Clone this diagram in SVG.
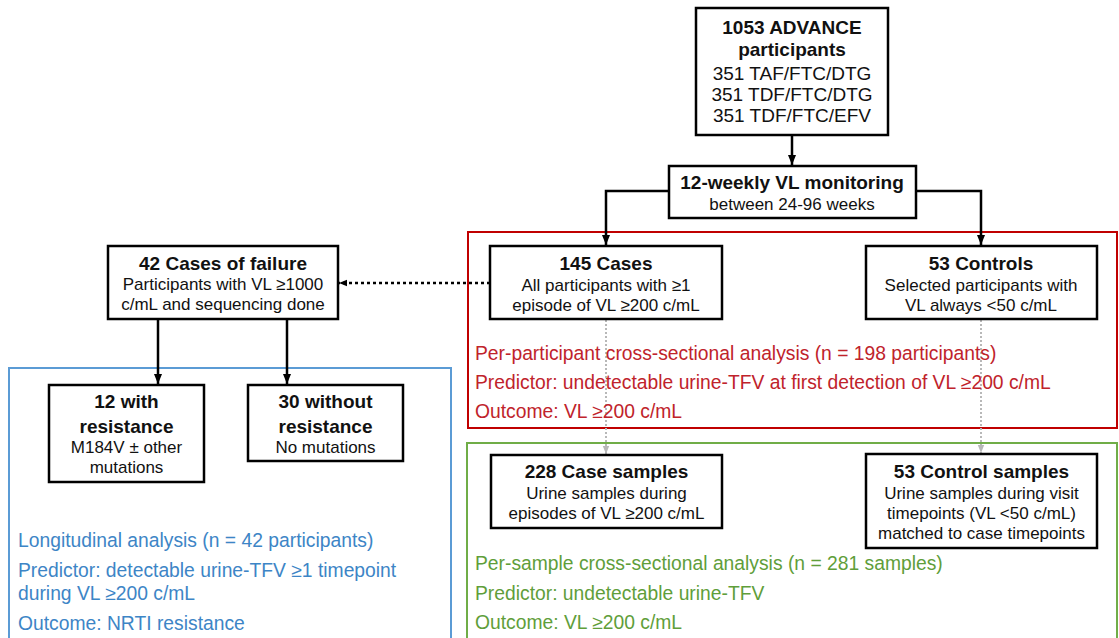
<svg xmlns="http://www.w3.org/2000/svg" width="1119" height="638" viewBox="0 0 1119 638">
<defs>
<style>
.box{fill:#fff;stroke:#000;stroke-width:2.5}
.t{font-family:"Liberation Sans",Arial,sans-serif;fill:#111;text-anchor:middle}
.b{font-weight:bold;font-size:19px}
.n{font-size:17px}
.nb{font-size:19px}
.ln{fill:none;stroke:#000;stroke-width:2.5}
.dot{fill:none;stroke:#000;stroke-width:2.5;stroke-dasharray:3 3}
.gdot{fill:none;stroke:#b8b8b8;stroke-width:2;stroke-dasharray:2 2}
.a{font-family:"Liberation Sans",Arial,sans-serif;font-size:19.3px}
.red{fill:#c0232b}
.grn{fill:#5f9e3a}
.blu{fill:#3d85c6}
</style>
<marker id="arr" viewBox="0 0 10 10" refX="10" refY="5" markerWidth="10" markerHeight="10" markerUnits="userSpaceOnUse" orient="auto"><path d="M0,1 L10,5 L0,9 z" fill="#000"/></marker>
<marker id="arrs" viewBox="0 0 10 10" refX="10" refY="5" markerWidth="8" markerHeight="8" markerUnits="userSpaceOnUse" orient="auto"><path d="M0,1 L10,5 L0,9 z" fill="#000"/></marker>
<marker id="garr" viewBox="0 0 10 10" refX="10" refY="5" markerWidth="8" markerHeight="8" markerUnits="userSpaceOnUse" orient="auto"><path d="M0,1 L10,5 L0,9 z" fill="#b8b8b8"/></marker>
</defs>
<rect width="1119" height="638" fill="#fff"/>

<g id="regions">
<rect x="468" y="232" width="649" height="196" fill="none" stroke="#c00000" stroke-width="2"/>
<rect x="467" y="443" width="650" height="210" fill="none" stroke="#70ad47" stroke-width="2"/>
<rect x="9" y="368" width="442" height="285" fill="none" stroke="#5b9bd5" stroke-width="2"/>
</g>

<g id="connectors">
<line class="ln" x1="792" y1="135" x2="792" y2="165" marker-end="url(#arr)"/>
<polyline class="ln" points="669,191 606,191 606,245" marker-end="url(#arr)"/>
<polyline class="ln" points="916,191 981,191 981,245" marker-end="url(#arr)"/>
<line class="dot" x1="490" y1="283" x2="339" y2="283" marker-end="url(#arrs)"/>
<line class="ln" x1="158" y1="319" x2="158" y2="384" marker-end="url(#arr)"/>
<line class="ln" x1="287" y1="319" x2="287" y2="384" marker-end="url(#arr)"/>
<line class="gdot" x1="606" y1="320" x2="606" y2="454" marker-end="url(#garr)"/>
<line class="gdot" x1="981" y1="320" x2="981" y2="453" marker-end="url(#garr)"/>
</g>

<g id="advance">
<rect class="box" x="696" y="8" width="192" height="127"/>
<text class="t b" x="792" y="34">1053 ADVANCE</text>
<text class="t b" x="792" y="56">participants</text>
<text class="t nb" x="792" y="80">351 TAF/FTC/DTG</text>
<text class="t nb" x="792" y="101">351 TDF/FTC/DTG</text>
<text class="t nb" x="792" y="122">351 TDF/FTC/EFV</text>
</g>

<g id="monitoring">
<rect class="box" x="669" y="166" width="247" height="52"/>
<text class="t b" x="792" y="189">12-weekly VL monitoring</text>
<text class="t n" x="792" y="210">between 24-96 weeks</text>
</g>

<g id="cases">
<rect class="box" x="490" y="246" width="232" height="73"/>
<text class="t b" x="606" y="270">145 Cases</text>
<text class="t n" x="606" y="291">All participants with ≥1</text>
<text class="t n" x="606" y="311">episode of VL ≥200 c/mL</text>
</g>

<g id="controls">
<rect class="box" x="866" y="246" width="231" height="73"/>
<text class="t b" x="981" y="270">53 Controls</text>
<text class="t n" x="981" y="291">Selected participants with</text>
<text class="t n" x="981" y="311">VL always &lt;50 c/mL</text>
</g>

<g id="failure">
<rect class="box" x="108" y="246" width="230" height="73"/>
<text class="t b" x="223" y="270">42 Cases of failure</text>
<text class="t n" x="223" y="290">Participants with VL ≥1000</text>
<text class="t n" x="223" y="310">c/mL and sequencing done</text>
</g>

<g id="with-resistance">
<rect class="box" x="49" y="385" width="155" height="97"/>
<text class="t b" x="126.5" y="408">12 with</text>
<text class="t b" x="126.5" y="433">resistance</text>
<text class="t n" x="126.5" y="453">M184V ± other</text>
<text class="t n" x="126.5" y="473">mutations</text>
</g>

<g id="without-resistance">
<rect class="box" x="248" y="385" width="155" height="76"/>
<text class="t b" x="325.5" y="408">30 without</text>
<text class="t b" x="325.5" y="433">resistance</text>
<text class="t n" x="325.5" y="453">No mutations</text>
</g>

<g id="case-samples">
<rect class="box" x="491" y="455" width="231" height="73"/>
<text class="t b" x="606.5" y="478">228 Case samples</text>
<text class="t n" x="606.5" y="499">Urine samples during</text>
<text class="t n" x="606.5" y="519">episodes of VL ≥200 c/mL</text>
</g>

<g id="control-samples">
<rect class="box" x="866" y="454" width="231" height="94"/>
<text class="t b" x="981.5" y="478">53 Control samples</text>
<text class="t n" x="981.5" y="499">Urine samples during visit</text>
<text class="t n" x="981.5" y="519">timepoints (VL &lt;50 c/mL)</text>
<text class="t n" x="981.5" y="539">matched to case timepoints</text>
</g>

<g id="red-analysis">
<text class="a red" x="475" y="360">Per-participant cross-sectional analysis (n = 198 participants)</text>
<text class="a red" x="475" y="389">Predictor: undetectable urine-TFV at first detection of VL ≥200 c/mL</text>
<text class="a red" x="475" y="418">Outcome: VL ≥200 c/mL</text>
</g>

<g id="green-analysis">
<text class="a grn" x="475" y="570">Per-sample cross-sectional analysis (n = 281 samples)</text>
<text class="a grn" x="475" y="600">Predictor: undetectable urine-TFV</text>
<text class="a grn" x="475" y="629">Outcome: VL ≥200 c/mL</text>
</g>

<g id="blue-analysis">
<text class="a blu" x="18" y="547">Longitudinal analysis (n = 42 participants)</text>
<text class="a blu" x="18" y="577">Predictor: detectable urine-TFV ≥1 timepoint</text>
<text class="a blu" x="18" y="600">during VL ≥200 c/mL</text>
<text class="a blu" x="18" y="630">Outcome: NRTI resistance</text>
</g>
</svg>
